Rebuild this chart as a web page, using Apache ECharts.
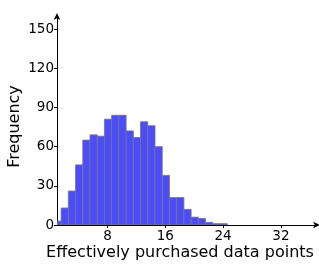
<!DOCTYPE html>
<html><head><meta charset="utf-8">
<script src="https://cdn.jsdelivr.net/npm/echarts@6/dist/echarts.min.js"></script>
<style>html,body{margin:0;padding:0;background:#fff}#c{width:319px;height:274px}</style>
</head><body><div id="c"></div>
<script>
// bin left edges start at this value, each bin is 1 wide
var binStart = 0.57;
var binWidth = 1;
var frequencies = [3, 13, 26, 46, 65, 69, 68, 81, 84, 84, 72, 67, 79, 76, 60, 38, 21, 21, 12, 6, 5, 2, 1, 1];
var xTicks = [8, 16, 24, 32];
var yTicks = [0, 30, 60, 90, 120, 150];

var bins = frequencies.map(function (v, i) {
  return [binStart + i * binWidth, binStart + (i + 1) * binWidth, v];
});

var chart = echarts.init(document.getElementById('c'));
var font = 'DejaVu Sans';
chart.setOption({
  animation: false,
  grid: { left: 57, right: 2, top: 16, bottom: 49, containLabel: false, outerBoundsMode: 'none' },
  xAxis: {
    type: 'value', min: 1, max: 37, interval: 8,
    name: 'Effectively purchased data points', nameLocation: 'middle', nameGap: 20, nameMoveOverlap: false,
    nameTextStyle: { fontFamily: font, fontSize: 16, color: '#000', padding: [0, 14, 0, 0] },
    axisLine: { show: true, lineStyle: { color: '#000', width: 1 }, symbol: ['none', 'arrow'], symbolSize: [5, 7], symbolOffset: [0, 3] },
    axisTick: { show: true, length: 3, lineStyle: { color: '#000' }, customValues: xTicks },
    axisLabel: { fontFamily: font, fontSize: 13.5, color: '#000', margin: 4, customValues: xTicks },
    splitLine: { show: false }
  },
  yAxis: {
    type: 'value', min: 0, max: 160, interval: 30,
    name: 'Frequency', nameLocation: 'middle', nameGap: 34, nameRotate: 90, nameMoveOverlap: false,
    nameTextStyle: { fontFamily: font, fontSize: 16, color: '#000', padding: [0, 12, 0, 0] },
    axisLine: { show: true, lineStyle: { color: '#000', width: 1 }, symbol: ['none', 'arrow'], symbolSize: [5, 7], symbolOffset: [0, 3] },
    axisTick: { show: true, length: 3, lineStyle: { color: '#000' }, customValues: yTicks },
    axisLabel: { fontFamily: font, fontSize: 13.5, color: '#000', margin: 3, customValues: yTicks },
    splitLine: { show: false }
  },
  series: [{
    type: 'custom',
    clip: true,
    data: bins,
    encode: { x: [0, 1], y: 2 },
    renderItem: function (params, api) {
      var p0 = api.coord([api.value(0), api.value(2)]);
      var p1 = api.coord([api.value(1), 0]);
      var shape = echarts.graphic.clipRectByRect(
        { x: p0[0], y: p0[1], width: p1[0] - p0[0], height: p1[1] - p0[1] },
        { x: params.coordSys.x, y: params.coordSys.y, width: params.coordSys.width, height: params.coordSys.height }
      );
      return shape && {
        type: 'rect', shape: shape,
        style: { fill: '#4b4bff', stroke: 'rgba(120,120,110,0.85)', lineWidth: 1 }
      };
    }
  }]
});
</script></body></html>
